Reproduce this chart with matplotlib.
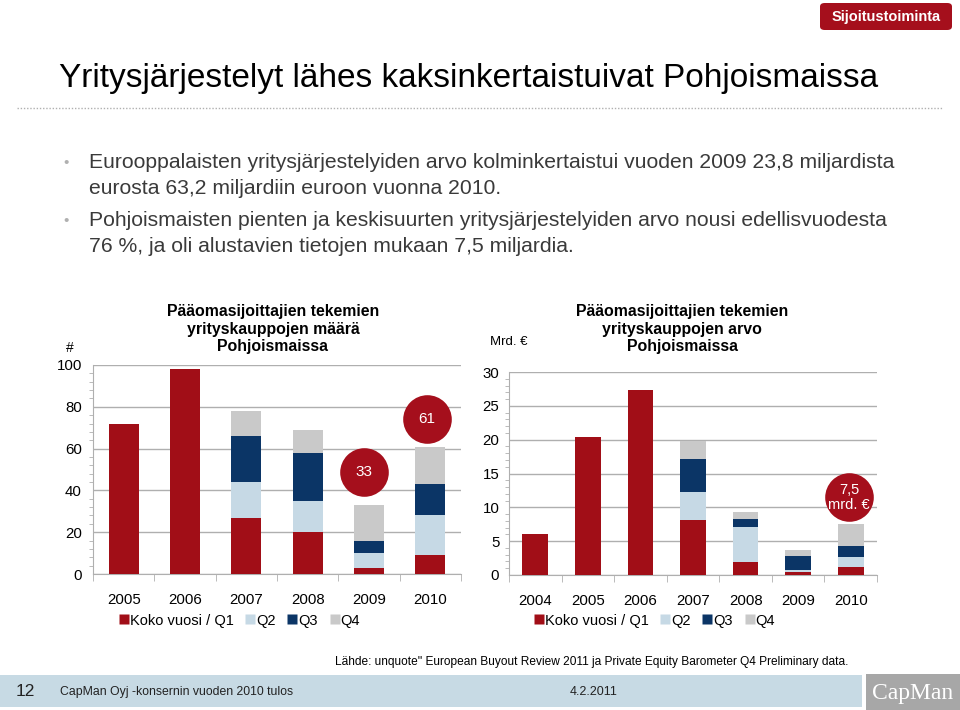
import matplotlib
matplotlib.use("Agg")
import matplotlib.pyplot as plt
from matplotlib.patches import Rectangle, FancyBboxPatch
from matplotlib.lines import Line2D
from matplotlib.ticker import MultipleLocator
import numpy as np

plt.rcParams['font.family'] = ['Liberation Sans', 'DejaVu Sans']

# ---------------- data ----------------
years_left = ['2005', '2006', '2007', '2008', '2009', '2010']
left_q1 = [72, 98, 27, 20, 3, 9]
left_q2 = [0, 0, 17, 15, 7, 19]
left_q3 = [0, 0, 22, 23, 6, 15]
left_q4 = [0, 0, 12, 11, 17, 18]

years_right = ['2004', '2005', '2006', '2007', '2008', '2009', '2010']
right_q1 = [6.1, 20.4, 27.4, 8.1, 1.9, 0.4, 1.2]
right_q2 = [0, 0, 0, 4.2, 5.25, 0.35, 1.5]
right_q3 = [0, 0, 0, 4.9, 1.1, 2.05, 1.6]
right_q4 = [0, 0, 0, 2.6, 1.0, 0.9, 3.2]

series_names = ['Koko vuosi / Q1', 'Q2', 'Q3', 'Q4']
colors = ['#A10E17', '#C6D9E5', '#0B3566', '#C9C9C9']

circle_texts = ['33', '61', '7,5\nmrd. €']

left_title = 'Pääomasijoittajien tekemien\nyrityskauppojen määrä\nPohjoismaissa'
right_title = 'Pääomasijoittajien tekemien\nyrityskauppojen arvo\nPohjoismaissa'
slide_title = 'Yritysjärjestelyt lähes kaksinkertaistuivat Pohjoismaissa'
bullet_lines = [
    ['Eurooppalaisten yritysjärjestelyiden arvo kolminkertaistui vuoden 2009 23,8 miljardista',
     'eurosta 63,2 miljardiin euroon vuonna 2010.'],
    ['Pohjoismaisten pienten ja keskisuurten yritysjärjestelyiden arvo nousi edellisvuodesta',
     '76 %, ja oli alustavien tietojen mukaan 7,5 miljardia.'],
]
source = "Lähde: unquote'' European Buyout Review 2011 ja Private Equity Barometer Q4 Preliminary data."

W, H = 960, 710
fig = plt.figure(figsize=(W / 100, H / 100), dpi=100)


def fx(x):
    return x / W


def fy(y):
    return 1 - y / H


RED = '#A50F1C'
GRID = '#AFAFAF'

# ---------------- header ----------------
btn = FancyBboxPatch((fx(820), fy(30)), fx(132), 27 / H,
                     boxstyle='round,pad=0,rounding_size=0.005',
                     transform=fig.transFigure, facecolor=RED, edgecolor='none')
fig.add_artist(btn)
fig.text(fx(886), fy(16.5), 'Sijoitustoiminta', color='white', fontsize=10.5,
         fontweight='bold', ha='center', va='center')

fig.text(fx(59), fy(79), slide_title, fontsize=24, color='black',
         ha='left', va='center')
fig.add_artist(Line2D([fx(17), fx(942)], [fy(108), fy(108)], transform=fig.transFigure,
                      color='#B0B0B0', lw=1.0, linestyle=(0, (1, 1.3))))

bullet_y = [163, 221]
for lines, y in zip(bullet_lines, bullet_y):
    fig.text(fx(66), fy(y), '•', color='#B0B0B0', fontsize=11, ha='center', va='center')
    for i, ln in enumerate(lines):
        fig.text(fx(89), fy(y + 25 * i), ln, color='#3A3A3A', fontsize=15.2,
                 ha='left', va='center')

# ---------------- charts ----------------


def draw_chart(ax, cats, series, ymax, ystep, yminor, label_pad):
    x = np.arange(len(cats))
    bottom = np.zeros(len(cats))
    for vals, c in zip(series, colors):
        v = np.array(vals, dtype=float)
        ax.bar(x, v, width=0.49, bottom=bottom, color=c, edgecolor='none', zorder=3)
        bottom += v
    ax.set_xlim(-0.5, len(cats) - 0.5)
    ax.set_ylim(0, ymax)
    ax.yaxis.set_major_locator(MultipleLocator(ystep))
    ax.yaxis.set_minor_locator(MultipleLocator(yminor))
    ax.grid(axis='y', which='major', color=GRID, lw=1, zorder=0)
    ax.set_xticks(x)
    ax.set_xticklabels(cats)
    ax.set_xticks(np.arange(len(cats) + 1) - 0.5, minor=True)
    ax.tick_params(axis='x', which='major', length=0, pad=14, labelsize=10.8)
    ax.tick_params(axis='x', which='minor', length=5, color=GRID, direction='out')
    ax.tick_params(axis='y', which='major', length=0, pad=label_pad, labelsize=10.8)
    ax.tick_params(axis='y', which='minor', length=3, color=GRID, direction='out')
    for s in ['top', 'right']:
        ax.spines[s].set_visible(False)
    for s in ['left', 'bottom']:
        ax.spines[s].set_color(GRID)
    ax.set_facecolor('none')
    return bottom


axL = fig.add_axes([fx(93), fy(574), fx(461) - fx(93), (574 - 365) / H])
totL = draw_chart(axL, years_left, [left_q1, left_q2, left_q3, left_q4], 100, 20, 4, 8)

axR = fig.add_axes([fx(509), fy(575), fx(877) - fx(509), (575 - 372) / H])
totR = draw_chart(axR, years_right, [right_q1, right_q2, right_q3, right_q4], 30, 5, 1, 7)

# chart titles
fig.text(fx(273), fy(329), left_title, fontsize=11.4, fontweight='bold',
         ha='center', va='center', linespacing=1.22)
fig.text(fx(682), fy(329), right_title, fontsize=11.4, fontweight='bold',
         ha='center', va='center', linespacing=1.22)
fig.text(fx(70), fy(348), '#', fontsize=10, ha='center', va='center')
fig.text(fx(490), fy(342), 'Mrd. €', fontsize=9.5, ha='left', va='center')

# highlight circles (placed above the bars they refer to)


def circle_label(ax, xi, yv, text, fs):
    ax.plot([xi], [yv], 'o', markersize=35, color=RED, markeredgecolor='none',
            clip_on=False, zorder=5)
    ax.text(xi, yv, text, color='white', fontsize=fs, ha='center', va='center',
            zorder=6, linespacing=1.1)


circle_label(axL, 4 - 0.08, totL[4] + 16, circle_texts[0], 11)
circle_label(axL, 4.94, totL[5] + 13, circle_texts[1], 11)
circle_label(axR, 6 - 0.03, totR[6] + 4.0, circle_texts[2], 10.5)

# legends
handles = [Line2D([], [], marker='s', linestyle='none', markersize=6.5,
                  markerfacecolor=c, markeredgecolor='none') for c in colors]
for cx in [fx(240), fx(655)]:
    fig.legend(handles, series_names, loc='center', bbox_to_anchor=(cx, fy(620.5)),
               ncol=4, frameon=False, fontsize=10.5, handlelength=0.55,
               handletextpad=0.15, columnspacing=0.85, borderpad=0)

# ---------------- footer ----------------
fig.text(fx(848), fy(662), source, fontsize=8.6, ha='right', va='center')
fig.add_artist(Rectangle((0, fy(707)), fx(862), 32 / H, transform=fig.transFigure,
                         facecolor='#C7DAE4', edgecolor='none'))
fig.add_artist(Rectangle((fx(866), 0), fx(94), 36 / H, transform=fig.transFigure,
                         facecolor='#A7A7A7', edgecolor='none'))
fig.text(fx(25), fy(692), '12', fontsize=12.5, ha='center', va='center', color='#222222')
fig.text(fx(60), fy(692), 'CapMan Oyj -konsernin vuoden 2010 tulos', fontsize=8.8,
         ha='left', va='center', color='#222222')
fig.text(fx(594), fy(692), '4.2.2011', fontsize=9, ha='center', va='center', color='#222222')
fig.text(fx(913), fy(693), 'CapMan', fontsize=17, ha='center', va='center', color='white',
         family=['Liberation Serif', 'DejaVu Serif'])

fig.savefig('out.png', dpi=100, facecolor='white')
